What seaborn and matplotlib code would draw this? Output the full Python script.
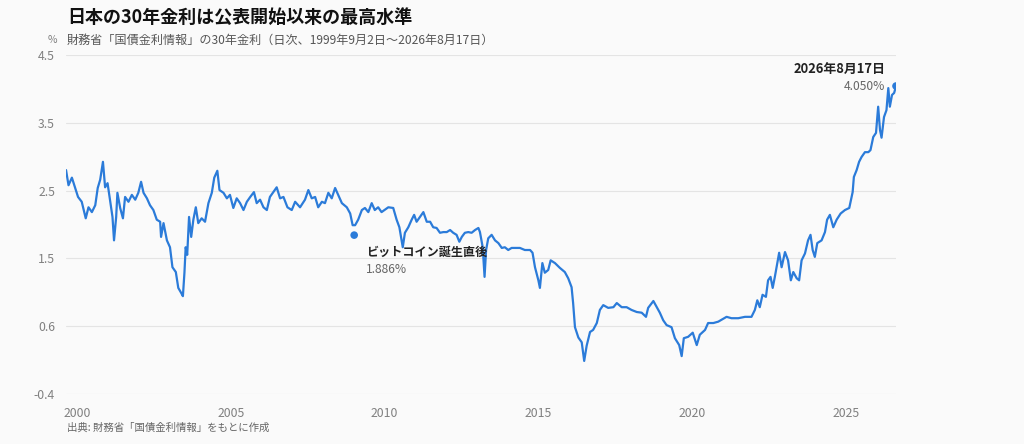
import numpy as np
import matplotlib
matplotlib.use('Agg')
import matplotlib.pyplot as plt
import pandas as pd
import seaborn as sns

# 30年金利（日次を目視で読んだ近似値）
YEARS = [
    1999.64, 1999.72, 1999.83, 1999.93, 2000.03, 2000.15, 2000.28, 2000.37, 2000.48, 2000.59,
    2000.67, 2000.75, 2000.84, 2000.91, 2000.99, 2001.07, 2001.15, 2001.20, 2001.27, 2001.31,
    2001.40, 2001.49, 2001.56, 2001.67, 2001.78, 2001.89, 2001.99, 2002.08, 2002.16, 2002.27,
    2002.37, 2002.48, 2002.59, 2002.70, 2002.73, 2002.81, 2002.92, 2003.02, 2003.10, 2003.21,
    2003.29, 2003.38, 2003.44, 2003.49, 2003.53, 2003.58, 2003.64, 2003.71, 2003.78, 2003.86,
    2003.94, 2004.05, 2004.16, 2004.27, 2004.38, 2004.46, 2004.56, 2004.63, 2004.76, 2004.87,
    2004.97, 2005.08, 2005.19, 2005.30, 2005.41, 2005.52, 2005.63, 2005.75, 2005.84, 2005.95,
    2006.06, 2006.17, 2006.27, 2006.38, 2006.49, 2006.60, 2006.71, 2006.84, 2006.98, 2007.09,
    2007.25, 2007.41, 2007.52, 2007.63, 2007.74, 2007.84, 2007.96, 2008.06, 2008.17, 2008.28,
    2008.39, 2008.49, 2008.61, 2008.77, 2008.88, 2008.96, 2009.04, 2009.14, 2009.26, 2009.36,
    2009.47, 2009.58, 2009.68, 2009.79, 2009.90, 2010.12, 2010.28, 2010.39, 2010.48, 2010.59,
    2010.66, 2010.77, 2010.88, 2010.96, 2011.04, 2011.15, 2011.26, 2011.37, 2011.48, 2011.58,
    2011.69, 2011.80, 2011.91, 2012.02, 2012.13, 2012.23, 2012.34, 2012.43, 2012.51, 2012.61,
    2012.72, 2012.83, 2012.94, 2013.05, 2013.10, 2013.19, 2013.25, 2013.30, 2013.37, 2013.48,
    2013.59, 2013.70, 2013.81, 2013.91, 2014.02, 2014.13, 2014.24, 2014.40, 2014.56, 2014.73,
    2014.81, 2014.89, 2015.00, 2015.05, 2015.13, 2015.21, 2015.32, 2015.40, 2015.54, 2015.70,
    2015.86, 2015.97, 2016.08, 2016.13, 2016.19, 2016.30, 2016.41, 2016.49, 2016.57, 2016.68,
    2016.78, 2016.90, 2017.00, 2017.11, 2017.27, 2017.44, 2017.55, 2017.71, 2017.87, 2018.03,
    2018.20, 2018.36, 2018.50, 2018.57, 2018.74, 2018.85, 2018.95, 2019.06, 2019.17, 2019.33,
    2019.44, 2019.58, 2019.66, 2019.73, 2019.87, 2020.02, 2020.15, 2020.25, 2020.42, 2020.52,
    2020.69, 2020.85, 2021.12, 2021.28, 2021.50, 2021.72, 2021.93, 2022.04, 2022.12, 2022.20,
    2022.29, 2022.40, 2022.47, 2022.55, 2022.62, 2022.69, 2022.77, 2022.83, 2022.91, 2023.02,
    2023.12, 2023.21, 2023.29, 2023.40, 2023.48, 2023.56, 2023.67, 2023.77, 2023.85, 2023.92,
    2023.99, 2024.07, 2024.21, 2024.32, 2024.39, 2024.48, 2024.59, 2024.70, 2024.83, 2024.97,
    2025.11, 2025.22, 2025.26, 2025.35, 2025.43, 2025.51, 2025.62, 2025.73, 2025.80, 2025.89,
    2025.98, 2026.05, 2026.11, 2026.16, 2026.24, 2026.32, 2026.38, 2026.43, 2026.50, 2026.57,
    2026.63,
]
RATES = [
    2.83, 2.61, 2.72, 2.58, 2.44, 2.37, 2.13, 2.29, 2.22, 2.32,
    2.57, 2.69, 2.95, 2.58, 2.64, 2.40, 2.15, 1.81, 2.15, 2.50,
    2.28, 2.13, 2.44, 2.37, 2.47, 2.40, 2.50, 2.66, 2.50, 2.42,
    2.32, 2.25, 2.11, 2.08, 1.86, 2.06, 1.81, 1.71, 1.42, 1.35,
    1.12, 1.05, 1.00, 1.34, 1.71, 1.60, 2.15, 1.86, 2.11, 2.29,
    2.06, 2.13, 2.08, 2.35, 2.50, 2.72, 2.82, 2.54, 2.50, 2.42,
    2.47, 2.28, 2.42, 2.35, 2.25, 2.37, 2.44, 2.51, 2.35, 2.40,
    2.29, 2.25, 2.44, 2.51, 2.58, 2.42, 2.44, 2.29, 2.25, 2.37,
    2.29, 2.40, 2.54, 2.42, 2.44, 2.29, 2.37, 2.35, 2.50, 2.42,
    2.57, 2.47, 2.35, 2.29, 2.20, 2.03, 2.03, 2.11, 2.25, 2.28,
    2.22, 2.35, 2.25, 2.29, 2.22, 2.29, 2.28, 2.11, 2.00, 1.71,
    1.92, 2.00, 2.11, 2.18, 2.08, 2.15, 2.22, 2.08, 2.08, 2.00,
    1.99, 1.92, 1.93, 1.93, 1.96, 1.92, 1.89, 1.79, 1.86, 1.92,
    1.93, 1.92, 1.96, 1.99, 1.93, 1.71, 1.28, 1.67, 1.84, 1.89,
    1.81, 1.77, 1.70, 1.71, 1.67, 1.70, 1.70, 1.70, 1.67, 1.67,
    1.63, 1.42, 1.23, 1.12, 1.48, 1.34, 1.38, 1.52, 1.48, 1.41,
    1.35, 1.26, 1.13, 0.90, 0.55, 0.40, 0.33, 0.06, 0.28, 0.48,
    0.51, 0.61, 0.80, 0.87, 0.83, 0.84, 0.90, 0.84, 0.84, 0.80,
    0.77, 0.76, 0.70, 0.83, 0.93, 0.84, 0.76, 0.65, 0.58, 0.55,
    0.39, 0.29, 0.13, 0.39, 0.41, 0.47, 0.29, 0.44, 0.51, 0.61,
    0.61, 0.63, 0.70, 0.68, 0.68, 0.70, 0.70, 0.80, 0.94, 0.84,
    1.02, 0.99, 1.23, 1.28, 1.12, 1.28, 1.48, 1.63, 1.42, 1.64,
    1.52, 1.23, 1.35, 1.26, 1.23, 1.52, 1.62, 1.81, 1.89, 1.67,
    1.57, 1.77, 1.81, 1.93, 2.11, 2.18, 2.00, 2.11, 2.20, 2.25,
    2.28, 2.51, 2.73, 2.83, 2.95, 3.02, 3.09, 3.09, 3.12, 3.31,
    3.37, 3.75, 3.41, 3.30, 3.60, 3.70, 4.02, 3.75, 3.92, 3.95,
    4.05,
]

# 注目点
MARK_YEARS = [2009.01, 2026.63]
MARK_RATES = [1.886, 4.050]
MARK_TITLES = ['ビットコイン誕生直後', '2026年8月17日']
MARK_VALUES = ['1.886%', '4.050%']

X_TICKS = [2000, 2005, 2010, 2015, 2020, 2025]
Y_LABELS = ['-0.4', '0.6', '1.5', '2.5', '3.5', '4.5']
Y_MIN, Y_MAX = -0.42, 4.5
X_MIN, X_MAX = 1999.64, 2026.63

TITLE = '日本の30年金利は公表開始以来の最高水準'
SUBTITLE = '財務省「国債金利情報」の30年金利（日次、1999年9月2日～2026年8月17日）'
SOURCE = '出典: 財務省「国債金利情報」をもとに作成'

BLUE = '#2b7bd9'
GRAY = '#808080'
BG = '#fafafa'

sns.set_style('white')
plt.rcParams['font.family'] = ['Noto Sans CJK JP', 'DejaVu Sans']

df = pd.DataFrame({'year': YEARS, 'rate': RATES})
marks = pd.DataFrame({'year': MARK_YEARS, 'rate': MARK_RATES})

fig = plt.figure(figsize=(10.24, 4.44), dpi=100, facecolor=BG)
ax = fig.add_axes([0.0645, 0.1126, 0.8105, 0.7635])
ax.set_facecolor(BG)

sns.lineplot(data=df, x='year', y='rate', color=BLUE, linewidth=1.6, ax=ax)
sns.scatterplot(data=marks, x='year', y='rate', color=BLUE, s=30, edgecolor='none', ax=ax, zorder=5)

ax.set_xlim(X_MIN, X_MAX)
ax.set_ylim(Y_MIN, Y_MAX)
ax.set_yticks(np.linspace(Y_MIN, Y_MAX, len(Y_LABELS)))
ax.set_yticklabels(Y_LABELS)
ax.set_xticks(X_TICKS)
ax.set_xticklabels([str(x) for x in X_TICKS])
ax.tick_params(axis='both', length=0, labelsize=8.8, colors=GRAY)
ax.tick_params(axis='y', pad=8)
ax.tick_params(axis='x', pad=9)
ax.grid(axis='y', color='#e4e4e4', linewidth=0.8)
ax.grid(axis='x', visible=False)
for s in ax.spines.values():
    s.set_visible(False)
ax.set_xlabel('')
ax.set_ylabel('')

# 注釈
ax.annotate(MARK_TITLES[0], xy=(MARK_YEARS[0], MARK_RATES[0]), xytext=(12, -17),
            textcoords='offset pixels', ha='left', va='center', fontsize=8.7,
            fontweight='bold', color='#222222')
ax.annotate(MARK_VALUES[0], xy=(MARK_YEARS[0], MARK_RATES[0]), xytext=(12, -34),
            textcoords='offset pixels', ha='left', va='center', fontsize=8.7, color='#666666')
ax.annotate(MARK_TITLES[1], xy=(MARK_YEARS[1], MARK_RATES[1]), xytext=(-11, 16),
            textcoords='offset pixels', ha='right', va='center', fontsize=9.3,
            fontweight='bold', color='#222222')
ax.annotate(MARK_VALUES[1], xy=(MARK_YEARS[1], MARK_RATES[1]), xytext=(-11, 0),
            textcoords='offset pixels', ha='right', va='center', fontsize=8.7, color='#666666')

fig.text(67 / 1024, 1 - 17 / 444, TITLE, ha='left', va='center', fontsize=13,
         fontweight='bold', color='#111111')
fig.text(67 / 1024, 1 - 40 / 444, SUBTITLE, ha='left', va='center', fontsize=8.7, color='#555555')
fig.text(57 / 1024, 1 - 40 / 444, '%', ha='right', va='center', fontsize=7.5, color=GRAY)
fig.text(67 / 1024, 1 - 428 / 444, SOURCE, ha='left', va='center', fontsize=7.5, color='#666666')

fig.savefig('out.png', dpi=100, facecolor=BG)
